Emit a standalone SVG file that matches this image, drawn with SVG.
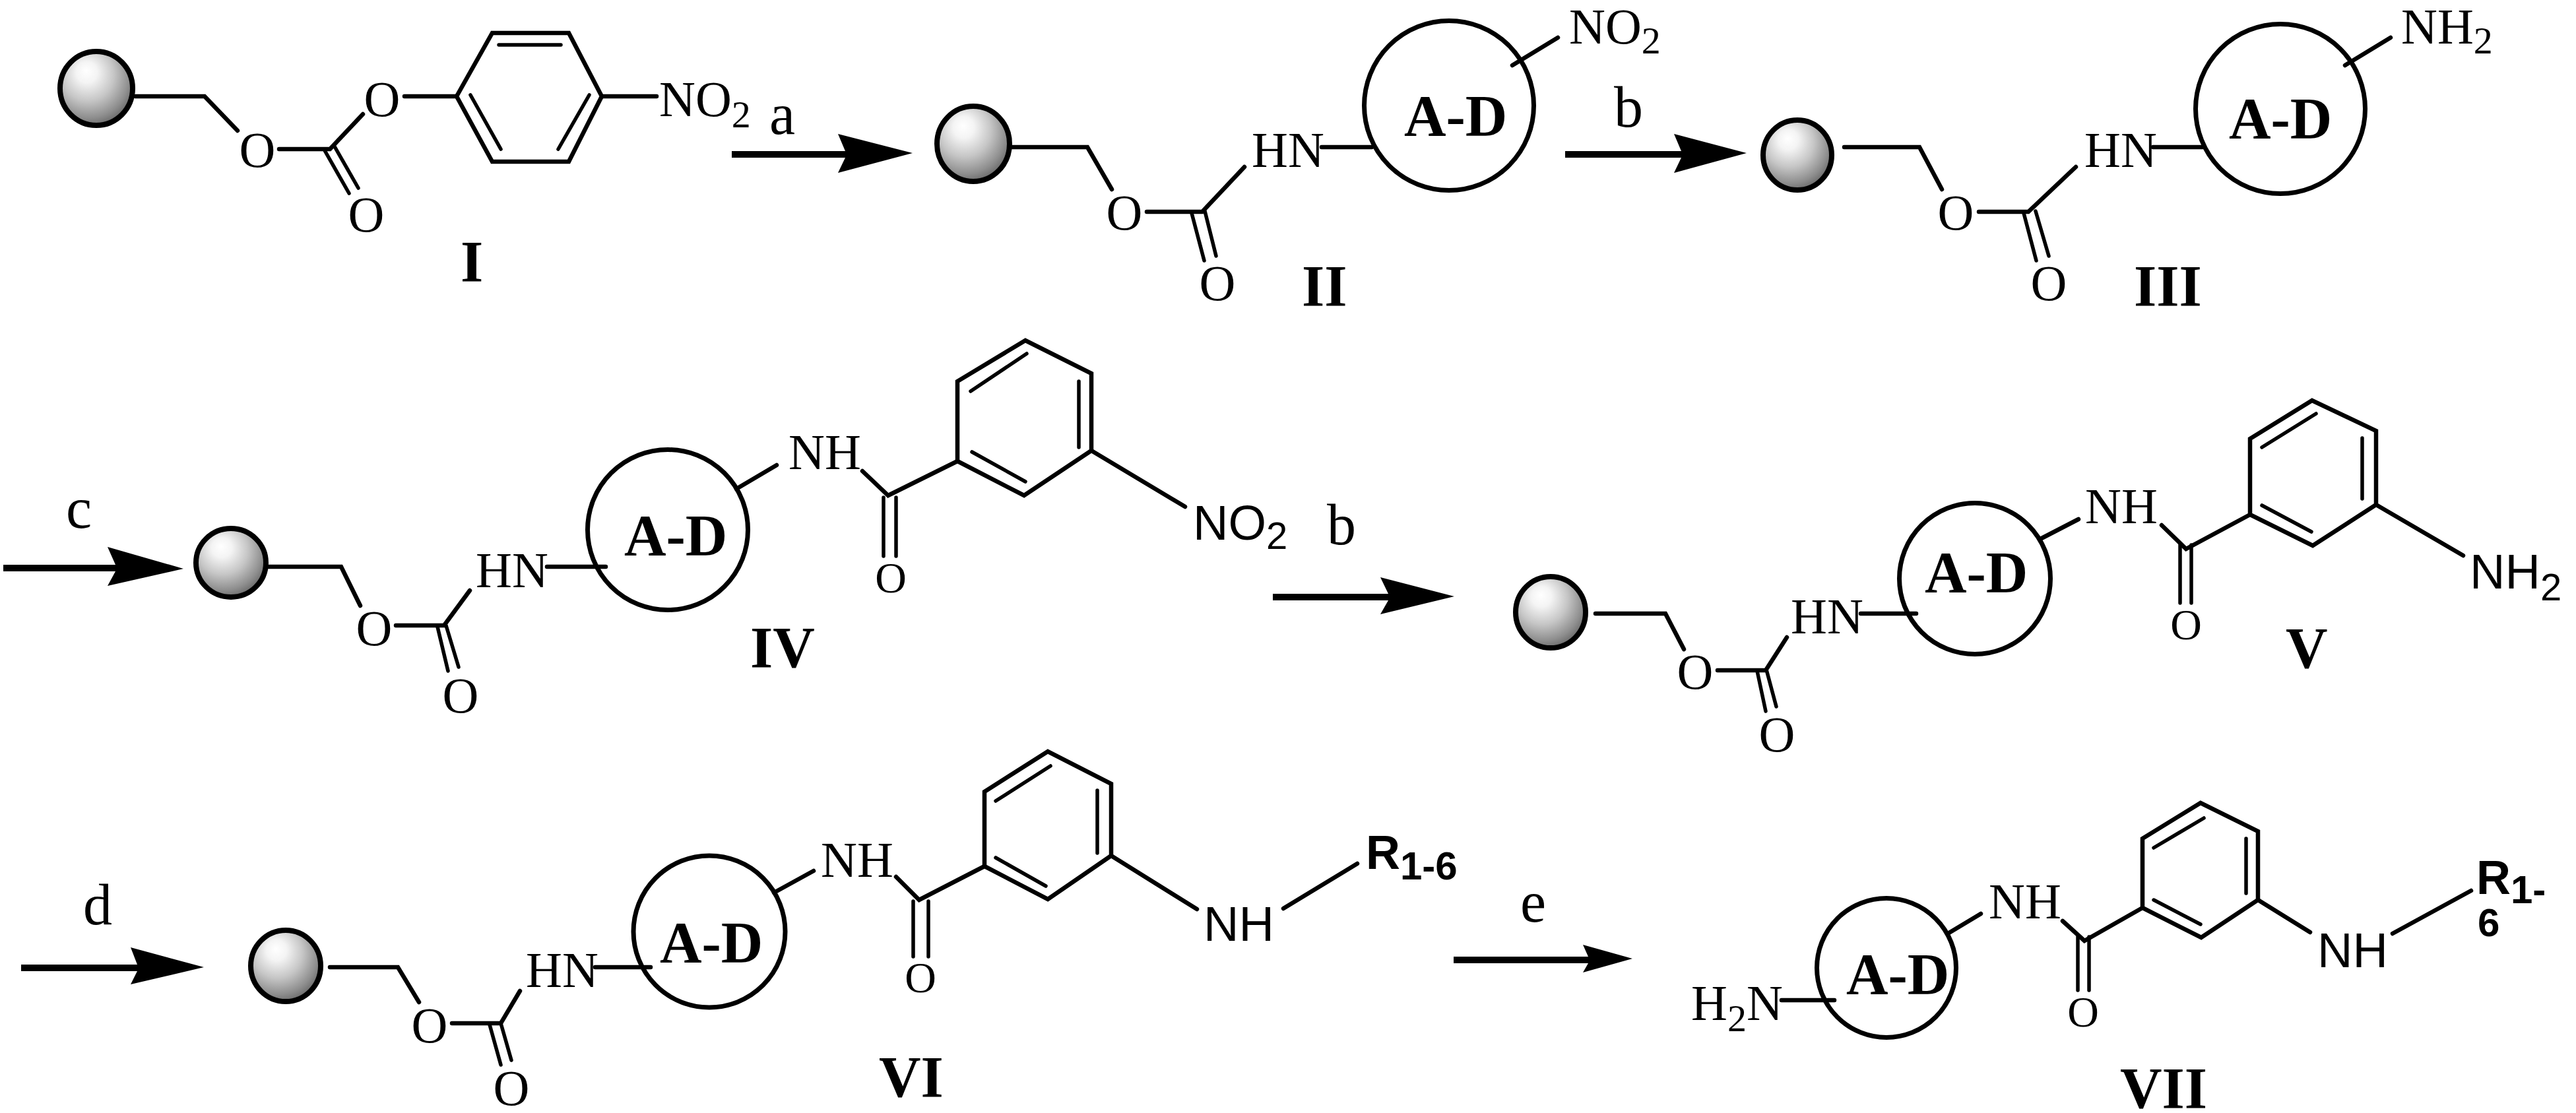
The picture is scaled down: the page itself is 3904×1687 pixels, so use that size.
<svg xmlns="http://www.w3.org/2000/svg" width="3904" height="1687" viewBox="0 0 3904 1687">
<style>
.bg{fill:#fff}
.b{fill:none;stroke:#000;stroke-width:6.5;stroke-linecap:round;stroke-linejoin:miter}
.i{fill:none;stroke:#000;stroke-width:5.5;stroke-linecap:round}
.ring{fill:none;stroke:#000;stroke-width:7}
.sphere{fill:url(#ball);stroke:#000;stroke-width:8}
text{font-family:"Liberation Serif","Times New Roman",serif;fill:#000}
.t{font-size:76px}
.o{font-size:76px;text-anchor:middle}
.os{font-size:66px;text-anchor:middle}
.sub{font-size:58px}
.sans{font-family:"Liberation Sans",Arial,sans-serif;font-size:74px}
.rg{font-family:"Liberation Sans",Arial,sans-serif;font-weight:bold;font-size:72px}
.rs{font-size:60px}
.lbl{font-weight:bold;font-size:88px}
.step{font-size:88px}
.arrow{fill:#000;stroke:none}
</style>
<defs>
<radialGradient id="ball" cx="0.4" cy="0.36" r="0.72" fx="0.36" fy="0.26">
<stop offset="0" stop-color="#ffffff"/>
<stop offset="0.2" stop-color="#f4f4f4"/>
<stop offset="0.5" stop-color="#c6c6c6"/>
<stop offset="0.78" stop-color="#8e8e8e"/>
<stop offset="1" stop-color="#585858"/>
</radialGradient>
</defs>
<rect class="bg" width="3904" height="1687"/>

<g id="connectors">
<path class="arrow" d="M1109 229H1281L1270 203L1383 232L1270 262L1281 239H1109Z"/>
<path class="arrow" d="M2372 229H2548L2537 203L2647 232L2537 262L2548 239H2372Z"/>
<path class="arrow" d="M5 856H175L163 829L278 862L163 888L175 866H5Z"/>
<path class="arrow" d="M1929 900H2104L2092 875L2204 904L2092 931L2104 910H1929Z"/>
<path class="arrow" d="M32 1462H208L198 1436L309 1466L198 1492L208 1472H32Z"/>
<path class="arrow" d="M2203 1450H2407L2399 1432L2474 1453L2399 1474L2407 1460H2203Z"/>
<text class="step" x="1166" y="203">a</text>
<text class="step" x="2446" y="192">b</text>
<text class="step" x="100" y="800">c</text>
<text class="step" x="2011" y="825">b</text>
<text class="step" x="126" y="1401">d</text>
<text class="step" x="2304" y="1397">e</text>
</g>

<g id="compound-I">
<ellipse class="sphere" cx="146" cy="134" rx="55" ry="56"/>
<polyline class="b" points="205,146 310,146 360,198"/>
<text class="o" x="390" y="253">O</text>
<polyline class="b" points="423,226 500,226 550,173"/>
<text class="o" x="579" y="176">O</text>
<line class="b" x1="613" y1="146" x2="692" y2="146"/>
<polygon class="b" points="692,146 746,50 862,50 912,146 862,245 746,245"/>
<line class="i" x1="756" y1="68" x2="850" y2="68"/>
<line class="i" x1="713" y1="144" x2="759" y2="226"/>
<line class="i" x1="893" y1="144" x2="846" y2="226"/>
<line class="b" x1="912" y1="146" x2="995" y2="146"/>
<text class="t" x="999" y="176">NO<tspan class="sub" dy="17">2</tspan></text>
<line class="i" x1="492" y1="228" x2="529" y2="293"/>
<line class="i" x1="507" y1="222" x2="543" y2="285"/>
<text class="o" x="555" y="351">O</text>
<text class="lbl" x="698" y="426">I</text>
</g>

<g id="compound-II">
<ellipse class="sphere" cx="1475" cy="218" rx="55" ry="57"/>
<polyline class="b" points="1534,223 1648,223 1685,287"/>
<text class="o" x="1704" y="348">O</text>
<polyline class="b" points="1738,321 1822,321 1886,253"/>
<text class="t" x="1897" y="253">HN</text>
<line class="b" x1="2003" y1="223" x2="2079" y2="223"/>
<circle class="ring" cx="2196" cy="160" r="128.5"/>
<text class="lbl" x="2128" y="205">A-D</text>
<line class="b" x1="2292" y1="99" x2="2361" y2="57"/>
<text class="t" x="2378" y="66">NO<tspan class="sub" dy="15">2</tspan></text>
<line class="i" x1="1806" y1="323" x2="1825" y2="395"/>
<line class="i" x1="1826" y1="320" x2="1843" y2="388"/>
<text class="o" x="1845" y="455">O</text>
<text class="lbl" x="1973" y="463">II</text>
</g>

<g id="compound-III">
<ellipse class="sphere" cx="2724" cy="235" rx="52" ry="53"/>
<polyline class="b" points="2795,223 2909,223 2943,287"/>
<text class="o" x="2964" y="348">O</text>
<polyline class="b" points="2999,321 3074,321 3146,253"/>
<text class="t" x="3159" y="253">HN</text>
<line class="b" x1="3263" y1="223" x2="3338" y2="223"/>
<circle class="ring" cx="3456" cy="165" r="128.5"/>
<text class="lbl" x="3378" y="209">A-D</text>
<line class="b" x1="3554" y1="99" x2="3623" y2="57"/>
<text class="t" x="3639" y="66">NH<tspan class="sub" dy="15">2</tspan></text>
<line class="i" x1="3067" y1="323" x2="3086" y2="395"/>
<line class="i" x1="3085" y1="320" x2="3105" y2="388"/>
<text class="o" x="3105" y="455">O</text>
<text class="lbl" x="3234" y="463">III</text>
</g>

<g id="compound-IV">
<ellipse class="sphere" cx="350" cy="853" rx="53" ry="52"/>
<polyline class="b" points="406,859 517,859 546,918"/>
<text class="o" x="567" y="978">O</text>
<polyline class="b" points="600,948 673,948 712,895"/>
<text class="t" x="721" y="890">HN</text>
<line class="b" x1="829" y1="859" x2="918" y2="859"/>
<circle class="ring" cx="1012" cy="803" r="121.5"/>
<text class="lbl" x="946" y="841">A-D</text>
<line class="b" x1="1116" y1="741" x2="1177" y2="705"/>
<text class="t" x="1195" y="711">NH</text>
<polyline class="b" points="1307,714 1346,751 1451,699"/>
<polygon class="b" points="1451,699 1451,578 1554,516 1654,566 1654,683 1552,751"/>
<line class="i" x1="1471" y1="593" x2="1556" y2="536"/>
<line class="i" x1="1635" y1="578" x2="1635" y2="678"/>
<line class="i" x1="1473" y1="685" x2="1554" y2="730"/>
<line class="b" x1="1654" y1="683" x2="1796" y2="768"/>
<text class="sans" x="1808" y="818">NO<tspan class="sub" dy="14">2</tspan></text>
<line class="i" x1="1339" y1="754" x2="1339" y2="843"/>
<line class="i" x1="1358" y1="754" x2="1358" y2="843"/>
<text class="os" x="1350" y="898">O</text>
<line class="i" x1="663" y1="950" x2="679" y2="1017"/>
<line class="i" x1="676" y1="948" x2="695" y2="1011"/>
<text class="o" x="698" y="1080">O</text>
<text class="lbl" x="1137" y="1011">IV</text>
</g>

<g id="compound-V">
<ellipse class="sphere" cx="2350" cy="928" rx="53" ry="54"/>
<polyline class="b" points="2418,930 2524,930 2552,984"/>
<text class="o" x="2569" y="1044">O</text>
<polyline class="b" points="2603,1016 2676,1016 2708,966"/>
<text class="t" x="2714" y="960">HN</text>
<line class="b" x1="2820" y1="930" x2="2904" y2="930"/>
<circle class="ring" cx="2993" cy="877" r="114.5"/>
<text class="lbl" x="2917" y="897">A-D</text>
<line class="b" x1="3092" y1="817" x2="3150" y2="787"/>
<text class="t" x="3160" y="793">NH</text>
<polyline class="b" points="3276,796 3313,832 3410,780"/>
<polygon class="b" points="3410,780 3410,665 3504,607 3601,653 3601,765 3505,827"/>
<line class="i" x1="3428" y1="678" x2="3510" y2="627"/>
<line class="i" x1="3580" y1="664" x2="3580" y2="756"/>
<line class="i" x1="3428" y1="766" x2="3503" y2="806"/>
<line class="b" x1="3601" y1="765" x2="3733" y2="842"/>
<text class="sans" x="3743" y="892">NH<tspan class="sub" dy="18">2</tspan></text>
<line class="i" x1="3304" y1="826" x2="3304" y2="914"/>
<line class="i" x1="3321" y1="826" x2="3321" y2="914"/>
<text class="os" x="3313" y="969">O</text>
<line class="i" x1="2663" y1="1017" x2="2676" y2="1078"/>
<line class="i" x1="2677" y1="1015" x2="2692" y2="1071"/>
<text class="o" x="2693" y="1139">O</text>
<text class="lbl" x="3464" y="1012">V</text>
</g>

<g id="compound-VI">
<ellipse class="sphere" cx="433" cy="1464" rx="53" ry="54"/>
<polyline class="b" points="500,1466 603,1466 635,1519"/>
<text class="o" x="651" y="1580">O</text>
<polyline class="b" points="685,1551 759,1551 788,1502"/>
<text class="t" x="797" y="1496">HN</text>
<line class="b" x1="902" y1="1466" x2="986" y2="1466"/>
<circle class="ring" cx="1075" cy="1412" r="115"/>
<text class="lbl" x="1000" y="1458">A-D</text>
<line class="b" x1="1173" y1="1353" x2="1233" y2="1320"/>
<text class="t" x="1244" y="1329">NH</text>
<polyline class="b" points="1358,1329 1393,1364 1492,1313"/>
<polygon class="b" points="1492,1313 1492,1200 1588,1139 1684,1188 1684,1297 1588,1363"/>
<line class="i" x1="1509" y1="1214" x2="1592" y2="1161"/>
<line class="i" x1="1663" y1="1198" x2="1663" y2="1293"/>
<line class="i" x1="1509" y1="1300" x2="1585" y2="1343"/>
<line class="b" x1="1684" y1="1297" x2="1814" y2="1378"/>
<text class="sans" x="1824" y="1426">NH</text>
<line class="b" x1="1945" y1="1377" x2="2057" y2="1309"/>
<text class="rg" x="2070" y="1317">R<tspan class="rs" dy="16">1-6</tspan></text>
<line class="i" x1="1384" y1="1366" x2="1384" y2="1450"/>
<line class="i" x1="1407" y1="1366" x2="1407" y2="1450"/>
<text class="os" x="1395" y="1504">O</text>
<line class="i" x1="742" y1="1553" x2="759" y2="1614"/>
<line class="i" x1="759" y1="1551" x2="775" y2="1607"/>
<text class="o" x="775" y="1675">O</text>
<text class="lbl" x="1332" y="1662">VI</text>
</g>

<g id="compound-VII">
<text class="t" x="2563" y="1546">H<tspan class="sub" dy="17">2</tspan><tspan dy="-17">N</tspan></text>
<line class="b" x1="2700" y1="1516" x2="2780" y2="1516"/>
<circle class="ring" cx="2859" cy="1467" r="105.5"/>
<text class="lbl" x="2798" y="1506">A-D</text>
<line class="b" x1="2952" y1="1415" x2="3002" y2="1385"/>
<text class="t" x="3014" y="1392">NH</text>
<polyline class="b" points="3126,1396 3159,1426 3247,1376"/>
<polygon class="b" points="3247,1376 3247,1271 3335,1217 3422,1260 3422,1364 3336,1421"/>
<line class="i" x1="3264" y1="1285" x2="3340" y2="1240"/>
<line class="i" x1="3404" y1="1271" x2="3404" y2="1354"/>
<line class="i" x1="3264" y1="1364" x2="3335" y2="1401"/>
<line class="b" x1="3422" y1="1364" x2="3501" y2="1413"/>
<text class="sans" x="3512" y="1466">NH</text>
<line class="b" x1="3626" y1="1415" x2="3745" y2="1350"/>
<text class="rg" x="3753" y="1355">R<tspan class="rs" dy="14">1-</tspan><tspan class="rs" x="3755" y="1419">6</tspan></text>
<line class="i" x1="3149" y1="1420" x2="3149" y2="1501"/>
<line class="i" x1="3166" y1="1420" x2="3166" y2="1501"/>
<text class="os" x="3157" y="1556">O</text>
<text class="lbl" x="3213" y="1679">VII</text>
</g>
</svg>
